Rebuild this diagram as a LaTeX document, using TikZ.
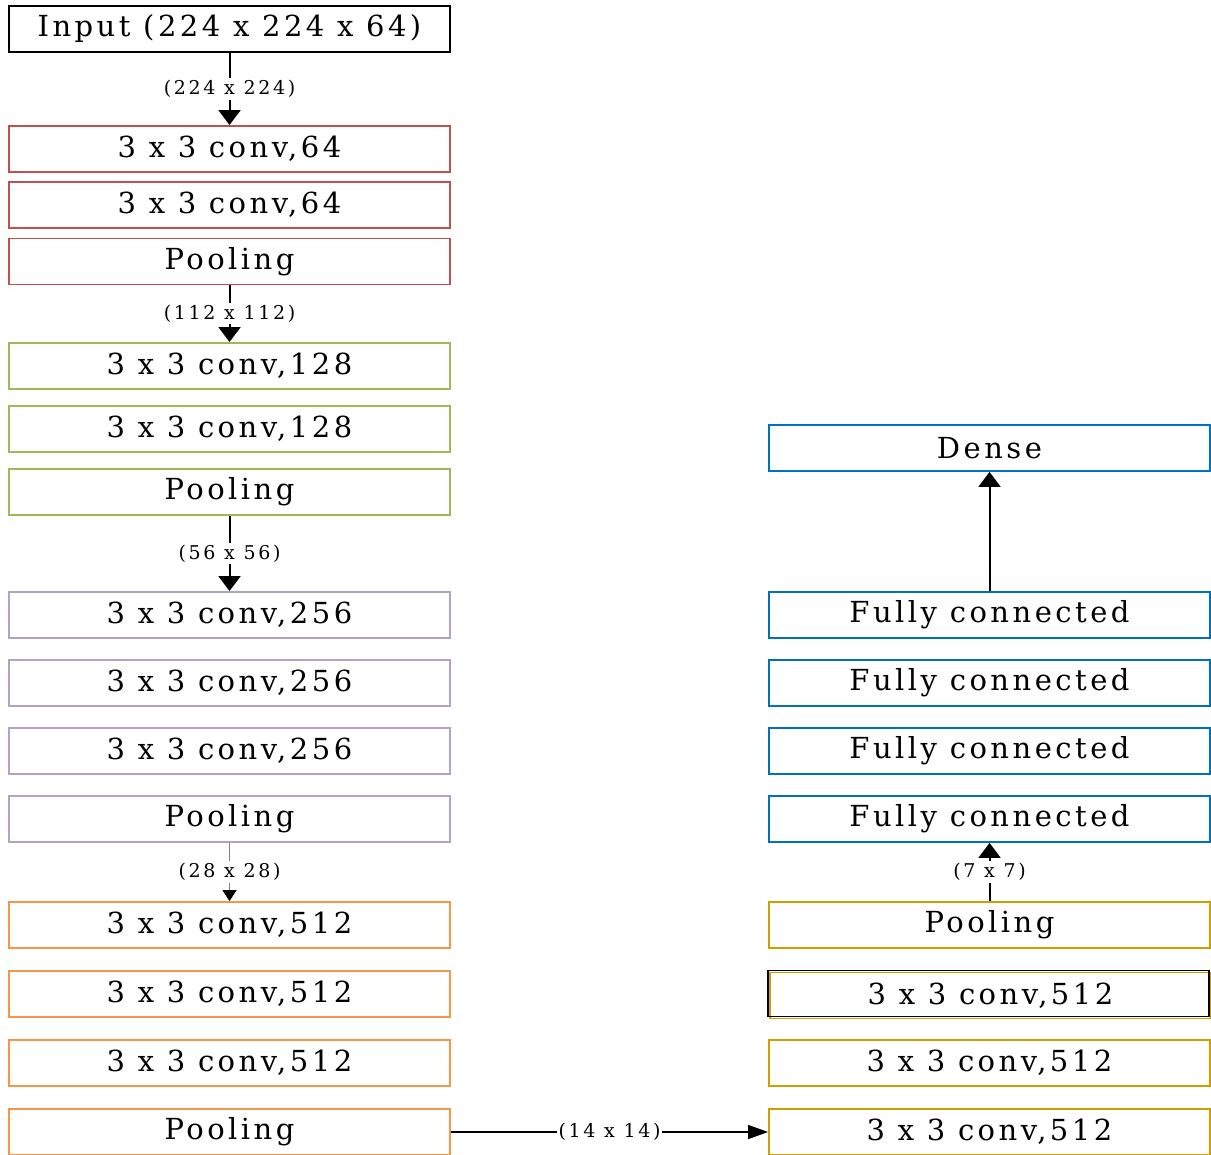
\documentclass[tikz,border=0pt]{standalone}
\usepackage{fontspec}
\setmainfont[LetterSpace=12]{DejaVu Serif}
\newfontfamily\dimfont[LetterSpace=14]{DejaVu Serif}
\usetikzlibrary{arrows.meta}
\definecolor{redl}{HTML}{C0504D}
\definecolor{greenl}{HTML}{9BBB59}
\definecolor{purplel}{HTML}{B3A2C7}
\definecolor{orangel}{HTML}{F79646}
\definecolor{goldl}{HTML}{D09E00}
\definecolor{bluel}{HTML}{0070C0}

\begin{document}
\begin{tikzpicture}[x=0.5pt,y=-0.5pt,
	layer/.style={draw=#1, line width=0.9pt, minimum width=220.5pt, minimum height=23pt, inner sep=0pt, font=\fontsize{14.5}{17}\selectfont},
	dim/.style={fill=white, inner sep=1pt, font=\dimfont\fontsize{9.5}{11}\selectfont},
	flow/.style={-{Triangle[width=11pt,length=7.5pt]}, line width=1pt},
	shifted/.style={postaction={draw=black, line width=0.9pt, transform canvas={xshift=-1pt, yshift=1pt}}}]
\useasboundingbox (0,0) rectangle (1211,1155);
\node [layer=black, line width=1.1pt] (in) at (229.5,29) {Input (224 x 224 x 64)};
\node [layer=redl] (a1) at (229.5,149) {3 x 3 conv,64};
\node [layer=redl] (a2) at (229.5,205) {3 x 3 conv,64};
\node [layer=redl] (a3) at (229.5,261.5) {Pooling};
\node [layer=greenl] (b1) at (229.5,366) {3 x 3 conv,128};
\node [layer=greenl] (b2) at (229.5,429) {3 x 3 conv,128};
\node [layer=greenl] (b3) at (229.5,492) {Pooling};
\node [layer=purplel] (c1) at (229.5,615) {3 x 3 conv,256};
\node [layer=purplel] (c2) at (229.5,683) {3 x 3 conv,256};
\node [layer=purplel] (c3) at (229.5,751) {3 x 3 conv,256};
\node [layer=purplel] (c4) at (229.5,819) {Pooling};
\node [layer=orangel] (d1) at (229.5,925) {3 x 3 conv,512};
\node [layer=orangel] (d2) at (229.5,994) {3 x 3 conv,512};
\node [layer=orangel] (d3) at (229.5,1063) {3 x 3 conv,512};
\node [layer=orangel] (d4) at (229.5,1132) {Pooling};
\node [layer=goldl] (e1) at (989.5,1132) {3 x 3 conv,512};
\node [layer=goldl] (e2) at (989.5,1063) {3 x 3 conv,512};
\node [layer=goldl, shifted] (e3) at (990.5,995.5) {3 x 3 conv,512};
\node [layer=goldl] (e4) at (989.5,925) {Pooling};
\node [layer=bluel] (f1) at (989.5,819) {Fully connected};
\node [layer=bluel] (f2) at (989.5,751) {Fully connected};
\node [layer=bluel] (f3) at (989.5,683) {Fully connected};
\node [layer=bluel] (f4) at (989.5,615) {Fully connected};
\node [layer=bluel] (g) at (989.5,448) {Dense};

\draw [flow] (in) -- node[dim] {(224 x 224)} (a1);
\draw [flow] (a3) -- node[dim] {(112 x 112)} (b1);
\draw [flow] (b3) -- node[dim] {(56 x 56)} (c1);
\draw [flow, line width=0.4pt, gray, -{Triangle[width=7pt,length=5.5pt,black]}] (c4) -- node[dim, text=black] {(28 x 28)} (d1);
\draw [flow, line width=0.6pt, -{Triangle[width=7pt,length=10pt]}] (d4) -- node[dim] {(14 x 14)} (e1);
\draw [flow] (e4) -- node[dim] {(7 x 7)} (f1);
\draw [flow] (f4) -- (g);
\end{tikzpicture}
\end{document}
